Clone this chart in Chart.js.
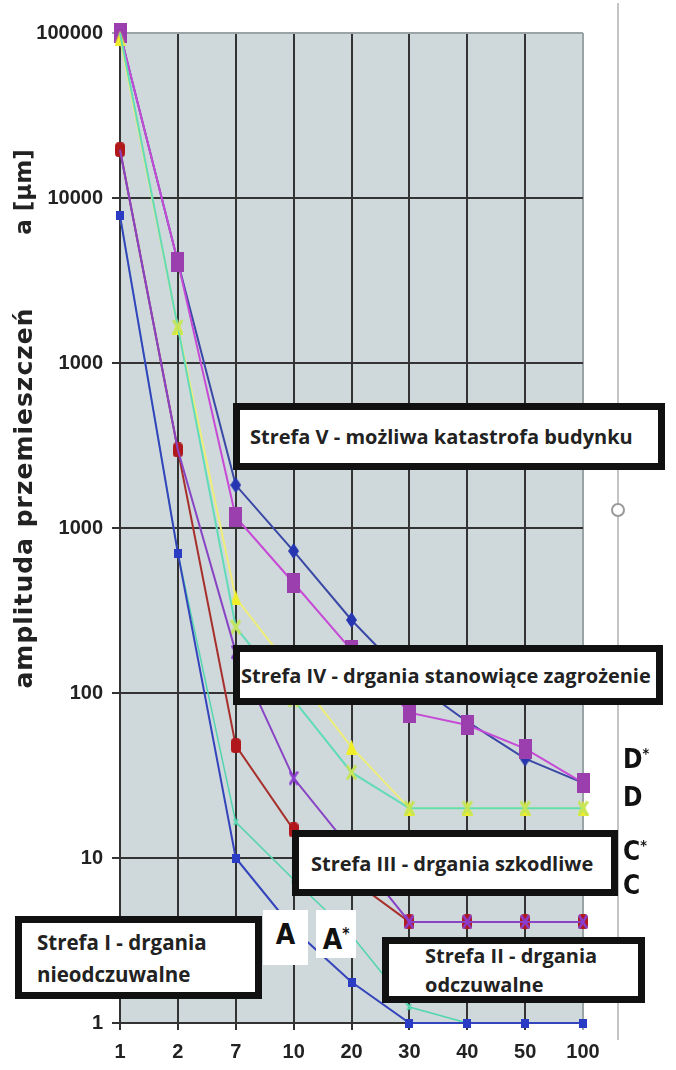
<!DOCTYPE html>
<html>
<head>
<meta charset="utf-8">
<script src="https://cdn.jsdelivr.net/npm/chart.js"></script>
<style>
  body { margin: 0; background: #fff; }
  #wrap { position: relative; width: 676px; height: 1070px; }
  #chart { position: absolute; left: 0; top: 0; }
  .box {
    position: absolute; box-sizing: border-box; background: #fff;
    border: 7px solid #111; font-family: "Open Sans", sans-serif; font-weight: 700;
    font-size: 20px; color: #222; display: flex; flex-direction: column; justify-content: center;
    white-space: nowrap;
  }
  .lbl {
    position: absolute; background: #fff; font-family: "DejaVu Sans Condensed", sans-serif;
    font-weight: 700; color: #111; text-align: center;
  }
  .side { position: absolute; font-family: "DejaVu Sans Condensed", sans-serif; font-weight: 700;
    font-size: 26px; color: #111; line-height: 26px; }
  sup { font-size: 55%; vertical-align: 10px; }
</style>
</head>
<body>
<div id="wrap">
  <canvas id="chart" width="676" height="1070"></canvas>

  <div class="box" style="left:233px;top:403px;width:432px;height:67px;padding-left:10px;">Strefa V - możliwa katastrofa budynku</div>
  <div class="box" style="left:233px;top:645px;width:430px;height:60px;padding-left:1px;">Strefa IV - drgania stanowiące zagrożenie</div>
  <div class="box" style="left:292px;top:830px;width:326px;height:66px;padding-left:12px;">Strefa III - drgania szkodliwe</div>
  <div class="box" style="left:15px;top:916px;width:247px;height:83px;padding-left:15px;font-size:20.5px;line-height:32px;">Strefa I - drgania<br>nieodczuwalne</div>
  <div class="box" style="left:382px;top:937px;width:263px;height:66px;padding-left:36px;line-height:29px;">Strefa II - drgania<br>odczuwalne</div>

  <div class="lbl" style="left:263px;top:910px;width:45px;height:55px;font-size:28px;line-height:50px;">A</div>
  <div class="lbl" style="left:316px;top:910px;width:40px;height:48px;font-size:28px;line-height:48px;">A<sup>*</sup></div>

  <div class="side" style="left:623px;top:740px;">D<sup>*</sup></div>
  <div class="side" style="left:623px;top:784px;">D</div>
  <div class="side" style="left:623px;top:832px;">C<sup>*</sup></div>
  <div class="side" style="left:623px;top:872px;">C</div>
</div>

<script>
const categories = ['1', '2', '7', '10', '20', '30', '40', '50', '100'];
const yTickValues = [1, 10, 100, 1000, 10000, 100000, 1000000];
const yTickLabels = ['1', '10', '100', '1000', '1000', '10000', '100000'];

const seriesA = [78000, 705, 10, 3.7, 1.77, 1, 1, 1, 1];
const seriesAStar = [78000, 705, 16.5, 7.4, 3.4, 1.25, 1, 1, 1];
const seriesC = [196000, 2970, 48, 14.8, 7.4, 4.1, 4.1, 4.1, 4.1];
const seriesCStar = [196000, 2970, 177, 30.5, 11.2, 4.1, 4.1, 4.1, 4.1];
const seriesD = [930000, 16500, 377, 134, 47, 20, 20, 20, 20];
const seriesDTeal = [1000000, 16500, 251, 91, 33, 20, 20, 20, 20];
const seriesDStar = [1000000, 41000, 1166, 464, 182, 76, 64, 46, 28.5];
const seriesDStarBlue = [1000000, 41000, 1820, 725, 277, 120, 67, 40, 28.5];

// markers are a bit taller than wide, like in the scanned chart
function marker(w, h, draw) {
    const c = document.createElement('canvas');
    c.width = w; c.height = h;
    draw(c.getContext('2d'), w, h);
    return c;
}
const mSquarePurple = marker(13, 20, (g, w, h) => { g.fillStyle = '#9b3fae'; g.fillRect(0, 0, w, h); });
const mDiamond = marker(11, 16, (g, w, h) => {
    g.fillStyle = '#2636b0'; g.beginPath();
    g.moveTo(w / 2, 0); g.lineTo(w, h / 2); g.lineTo(w / 2, h); g.lineTo(0, h / 2); g.closePath(); g.fill();
});
const mSquareBlue = marker(8, 9, (g, w, h) => { g.fillStyle = '#2a3cc4'; g.fillRect(0, 0, w, h); });
const mRed = marker(10, 15, (g, w, h) => {
    g.fillStyle = '#b0181c'; g.beginPath(); g.roundRect(0, 0, w, h, 4); g.fill();
});
const mTriangle = marker(11, 15, (g, w, h) => {
    g.fillStyle = '#eeee2a'; g.beginPath();
    g.moveTo(w / 2, 0); g.lineTo(w, h); g.lineTo(0, h); g.closePath(); g.fill();
});
function cross(color, w, h, lw) {
    return marker(w, h, (g) => {
        g.strokeStyle = color; g.lineWidth = lw; g.beginPath();
        g.moveTo(1, 1); g.lineTo(w - 1, h - 1); g.moveTo(w - 1, 1); g.lineTo(1, h - 1); g.stroke();
    });
}
const mCrossPurple = cross('#8a3cd0', 10, 15, 2.5);
const mCrossYellow = cross('#c4e45a', 11, 16, 3);
const mCrossTeal = cross('#58d8b0', 6, 8, 2);

// hideFirst: number of leading points whose marker sits under another series
function line(label, data, color, width, style, hideFirst) {
    return {
        label: label, data: data, borderColor: color, borderWidth: width,
        pointStyle: style, tension: 0, clip: false,
        pointRadius: (c) => c.dataIndex < (hideFirst || 0) ? 0 : 6,
        pointHoverRadius: 6
    };
}

const plotBg = {
    id: 'plotBg',
    beforeDraw(chart) {
        const { ctx, chartArea: a } = chart;
        ctx.save();
        ctx.fillStyle = '#cfd8db';
        ctx.fillRect(a.left, a.top, a.right - a.left, a.bottom - a.top);
        ctx.restore();
    },
    afterDraw(chart) {
        const ctx = chart.ctx;
        ctx.save();
        // stray vertical rule with handle, right of the plot
        ctx.strokeStyle = '#c4c4c4';
        ctx.lineWidth = 2;
        ctx.beginPath(); ctx.moveTo(618, 3); ctx.lineTo(618, 1040); ctx.stroke();
        ctx.fillStyle = '#fff';
        ctx.strokeStyle = '#9a9a9a';
        ctx.beginPath(); ctx.arc(618, 510, 6, 0, Math.PI * 2); ctx.fill(); ctx.stroke();
        // y axis title
        ctx.fillStyle = '#222';
        ctx.textAlign = 'center';
        ctx.textBaseline = 'middle';
        ctx.translate(25, 0);
        ctx.rotate(-Math.PI / 2);
        ctx.font = 'bold 25px "DejaVu Sans"';
        ctx.letterSpacing = '1px';
        ctx.fillText('amplituda przemieszczeń', -498, 0);
        ctx.font = 'bold 23px "DejaVu Sans"';
        ctx.letterSpacing = '0px';
        ctx.fillText('a [μm]', -192, 0);
        ctx.restore();
    }
};

// first dataset is drawn on top
new Chart(document.getElementById('chart'), {
    type: 'line',
    data: {
        labels: categories,
        datasets: [
            line('A', seriesA, '#3444bc', 2, mSquareBlue),
            line('A*', seriesAStar, '#52d6ae', 1.5, mCrossTeal, 2),
            line('C*', seriesCStar, '#8844c4', 2, mCrossPurple, 2),
            line('C', seriesC, '#a8302c', 2, mRed),
            line('D (2)', seriesDTeal, '#62dcb8', 2, mCrossYellow, 1),
            line('D', seriesD, '#eeee78', 2, mTriangle),
            line('D*', seriesDStar, '#c64ad6', 2, mSquarePurple),
            line('D* (2)', seriesDStarBlue, '#3a48a6', 2, mDiamond)
        ]
    },
    options: {
        responsive: false,
        animation: false,
        layout: { padding: { left: 0, right: 93, top: 33, bottom: 0 } },
        plugins: { legend: { display: false }, tooltip: { enabled: false } },
        scales: {
            x: {
                type: 'category',
                offset: false,
                afterFit(scale) { scale.height = 47; },
                grid: {
                    color: (c) => c.index === categories.length - 1 ? '#9aa4a6' : '#333',
                    lineWidth: 2, tickLength: 7
                },
                border: { color: '#333', width: 2 },
                ticks: {
                    color: '#222', padding: 10, autoSkip: false, maxRotation: 0,
                    font: { family: '"Liberation Sans"', size: 20, weight: 'bold' }
                }
            },
            y: {
                type: 'logarithmic',
                min: 1,
                max: 1000000,
                afterFit(scale) { scale.width = 120; },
                afterBuildTicks(scale) { scale.ticks = yTickValues.map(v => ({ value: v })); },
                grid: {
                    color: (c) => c.tick && c.tick.value === 1000000 ? '#9aa4a6' : '#333',
                    lineWidth: 2, tickLength: 8
                },
                border: { color: '#333', width: 2 },
                ticks: {
                    color: '#222', padding: 9,
                    font: { family: '"Liberation Sans"', size: 20, weight: 'bold' },
                    callback: (v) => yTickLabels[yTickValues.indexOf(v)]
                }
            }
        }
    },
    plugins: [plotBg]
});
</script>
</body>
</html>
